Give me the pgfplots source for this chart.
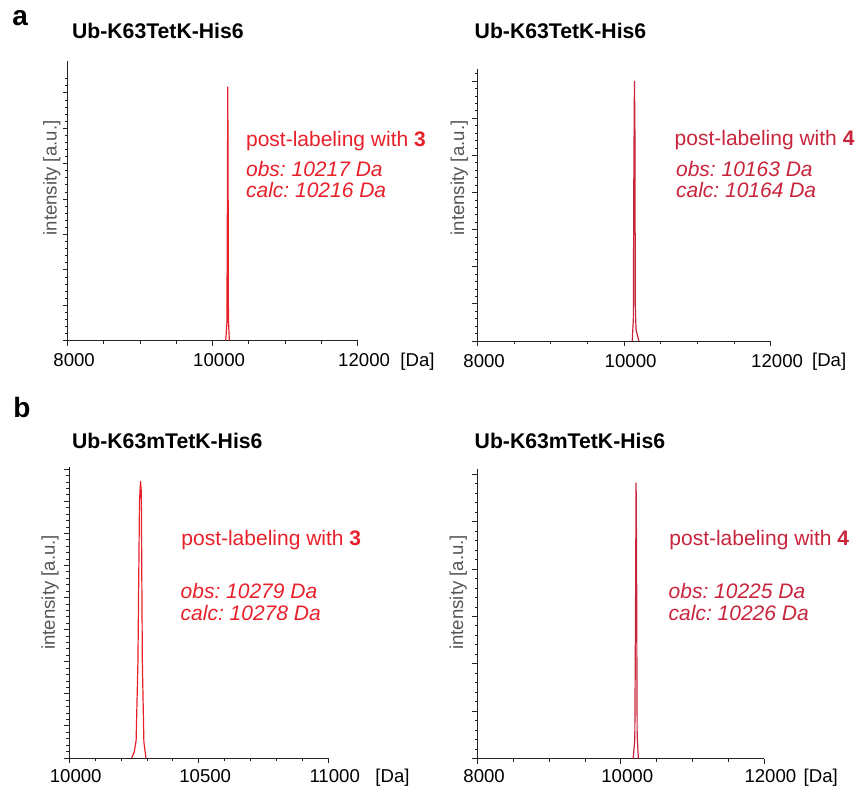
\documentclass[border=0pt]{standalone}
\usepackage{pgfplots}
\pgfplotsset{compat=1.18}
\usepackage{fontspec}
\setmainfont{Liberation Sans}
\frenchspacing
\definecolor{redA}{RGB}{232,32,42}
\definecolor{redB}{RGB}{200,36,60}
\definecolor{axgray}{RGB}{35,35,35}
\definecolor{labgray}{RGB}{85,85,85}
\newcommand{\tl}{\fontsize{9.3pt}{11pt}\selectfont}
\newcommand{\rt}{\fontsize{10.5pt}{12pt}\selectfont}
\pgfplotsset{
  msstyle/.style={
    scale only axis,
    axis lines*=left,
    axis line style={axgray, line width=0.5pt},
    tick style={axgray, line width=0.45pt},
    tick align=outside,
    major tick length=2.6pt,
    minor tick length=1.5pt,
    ymin=0,
    yticklabels={},
    scaled ticks=false,
    /pgf/number format/assume math mode=true,
    /pgf/number format/1000 sep={},
    xticklabel style={font=\tl, text=black, anchor=base, yshift=-10.5pt, xshift=3.2pt},
    clip=false,
    every axis plot/.append style={line width=0.6pt, mark=none},
  }
}
\begin{document}
\begin{tikzpicture}
\useasboundingbox (0,0) rectangle (429.5pt,-394.5pt);
% ---------- a, left ----------
\begin{axis}[msstyle, at={({67.7*0.5pt},{-340.7*0.5pt})}, anchor=south west,
  width={290*0.5pt}, height={279.7*0.5pt},
  xmin=8000, xmax=12000, xtick={8000,10000,12000}, minor x tick num=3,
  ymax=7.90, ytick={0,1,...,7}, minor ytick={0.2,0.4,...,7.41}]
\addplot[redA] coordinates {(10180,0) (10196,0.5) (10203,4.0) (10208,7.18) (10212,5.0) (10217,0.6) (10230,0)};
\end{axis}
% ---------- a, right ----------
\begin{axis}[msstyle, at={({477.7*0.5pt},{-341*0.5pt})}, anchor=south west,
  width={293*0.5pt}, height={272*0.5pt},
  xmin=8000, xmax=12000, xtick={8000,10000,12000}, minor x tick num=3,
  ymax=7.33, ytick={0,1,...,7}, minor ytick={0.2,0.4,...,7.21}]
\addplot[redB] coordinates {(10110,0) (10125,0.6) (10132,4.5) (10140,7.01) (10146,5.8) (10152,0.9) (10162,0.3) (10200,0)};
\end{axis}
% ---------- b, left ----------
\begin{axis}[msstyle, at={({69.3*0.5pt},{-758*0.5pt})}, anchor=south west,
  width={259*0.5pt}, height={290.7*0.5pt},
  xmin=10000, xmax=11000, xtick={10000,10500,11000}, minor x tick num=4,
  ymax=9.06, ytick={0,1,...,9}, minor ytick={0.2,0.4,...,9.01},
  xticklabel style={yshift=1pt}]
\addplot[redA] coordinates {(10241,0) (10251,0.2) (10258,0.55) (10265,3.0) (10271,8.0) (10275,8.63) (10278,8.3) (10282,3.0) (10288,0.5) (10296,0)};
\end{axis}
% ---------- b, right ----------
\begin{axis}[msstyle, at={({477.7*0.5pt},{-758.7*0.5pt})}, anchor=south west,
  width={286.3*0.5pt}, height={289.7*0.5pt},
  xmin=8000, xmax=12000, xtick={8000,10000,12000}, minor x tick num=3,
  ymax=6.11, ytick={0,1,...,6}, minor ytick={0.2,0.4,...,6.01},
  xticklabel style={yshift=1pt}]
\addplot[redB] coordinates {(10172,0) (10195,0.4) (10205,3.0) (10213,5.82) (10219,4.5) (10228,0.5) (10245,0)};
\end{axis}
% ---------- texts ----------
\begin{scope}[x=0.5pt, y=-0.5pt]
\node[anchor=base west, inner sep=0] at (12,25) {\fontsize{14pt}{16pt}\selectfont\bfseries a};
\node[anchor=base west, inner sep=0] at (13,417) {\fontsize{14pt}{16pt}\selectfont\bfseries b};
\foreach \x/\y in {71.7/38.3, 474.3/38.3}
  \node[anchor=base west, inner sep=0] at (\x,\y) {\fontsize{10.6pt}{12pt}\selectfont\bfseries Ub-K63TetK-His6};
\foreach \x/\y in {71.7/448.3, 474.3/448.3}
  \node[anchor=base west, inner sep=0] at (\x,\y) {\fontsize{10.6pt}{12pt}\selectfont\bfseries Ub-K63mTetK-His6};
% y labels
\foreach \x/\y in {51.7/178, 459.3/178, 50/592.3, 458.3/592.3}
  \node[rotate=90, inner sep=0, text=labgray] at (\x,\y) {\tl intensity [a.u.]};
% [Da]
\foreach \x/\y in {400/366.7, 811.7/366.7, 375/782, 803.3/782}
  \node[anchor=base west, inner sep=0] at (\x,\y) {\tl [Da]};
% annotations a-left
\node[anchor=base west, inner sep=0, text=redA] at (245.7,146.7) {\rt post-labeling with \textbf{3}};
\node[anchor=base west, inner sep=0, text=redA] at (245.7,176.7) {\rt\itshape obs: 10217 Da};
\node[anchor=base west, inner sep=0, text=redA] at (245.7,197.3) {\rt\itshape calc: 10216 Da};
% a-right
\node[anchor=base west, inner sep=0, text=redB] at (674.3,145) {\rt post-labeling with \textbf{4}};
\node[anchor=base west, inner sep=0, text=redB] at (675.7,176.7) {\rt\itshape obs: 10163 Da};
\node[anchor=base west, inner sep=0, text=redB] at (675.7,197.3) {\rt\itshape calc: 10164 Da};
% b-left
\node[anchor=base west, inner sep=0, text=redA] at (181,545) {\rt post-labeling with \textbf{3}};
\node[anchor=base west, inner sep=0, text=redA] at (180.3,598.3) {\rt\itshape obs: 10279 Da};
\node[anchor=base west, inner sep=0, text=redA] at (180.3,620) {\rt\itshape calc: 10278 Da};
% b-right
\node[anchor=base west, inner sep=0, text=redB] at (669,545) {\rt post-labeling with \textbf{4}};
\node[anchor=base west, inner sep=0, text=redB] at (668.3,598.3) {\rt\itshape obs: 10225 Da};
\node[anchor=base west, inner sep=0, text=redB] at (668.3,620) {\rt\itshape calc: 10226 Da};
\end{scope}
\end{tikzpicture}
\end{document}
